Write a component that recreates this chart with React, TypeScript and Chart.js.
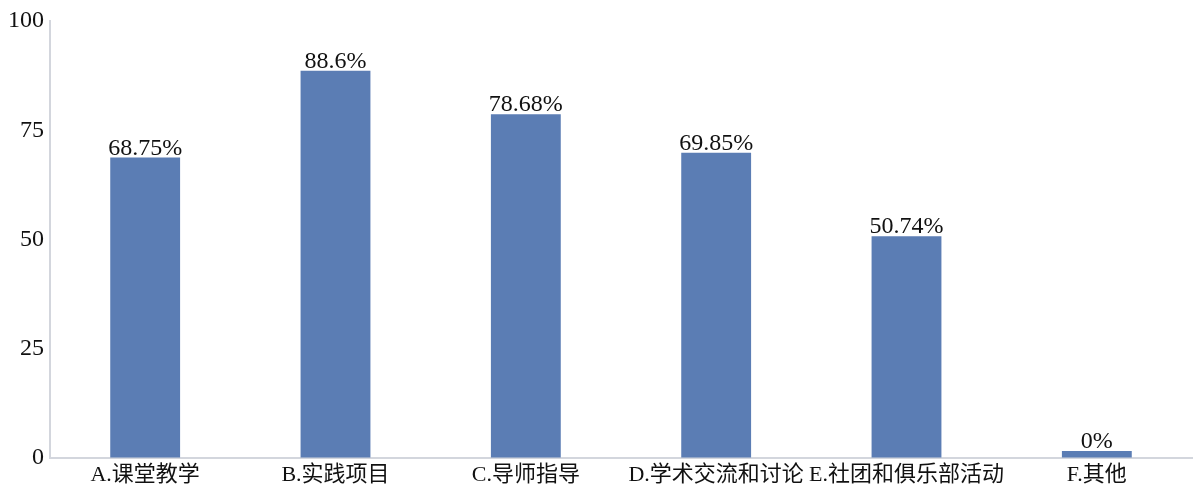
import React, { useEffect, useRef } from "react";
import { Chart, registerables } from "chart.js";

Chart.register(...registerables);

const categories = ["A.课堂教学", "B.实践项目", "C.导师指导", "D.学术交流和讨论", "E.社团和俱乐部活动", "F.其他"];
const values = [68.75, 88.6, 78.68, 69.85, 50.74, 0];
const valueLabels = ["68.75%", "88.6%", "78.68%", "69.85%", "50.74%", "0%"];
const yTicks = [0, 25, 50, 75, 100];

const FONT = '"Liberation Serif", "Noto Sans CJK SC", serif';

const labelPlugin = {
  id: "valueLabels",
  afterDatasetsDraw(chart: any) {
    const ctx = chart.ctx;
    const meta = chart.getDatasetMeta(0);
    ctx.save();
    ctx.font = `24px ${FONT}`;
    ctx.fillStyle = "#111";
    ctx.textAlign = "center";
    ctx.textBaseline = "alphabetic";
    meta.data.forEach((bar: any, i: number) => {
      ctx.fillText(valueLabels[i], bar.x, bar.y - 3);
    });
    ctx.restore();
  },
};

export default function App() {
  const ref = useRef<HTMLCanvasElement>(null);
  useEffect(() => {
    if (!ref.current) return;
    const chart = new Chart(ref.current, {
      type: "bar",
      data: {
        labels: categories,
        datasets: [
          {
            data: values,
            backgroundColor: "#5b7db4",
            barPercentage: 0.367,
            categoryPercentage: 1,
            minBarLength: 7,
          },
        ],
      },
      options: {
        responsive: false,
        animation: false,
        layout: { padding: { top: 21, right: 3, left: 0, bottom: 0 } },
        plugins: { legend: { display: false }, tooltip: { enabled: false } },
        scales: {
          x: {
            grid: { display: true, color: "transparent", drawTicks: false },
            border: { display: true, color: "#d3d6dd", width: 2 },
            ticks: { color: "#111", font: { family: FONT, size: 22 }, padding: 4, maxRotation: 0, autoSkip: false },
            afterFit: (s: any) => { s.height = 37; },
          },
          y: {
            min: 0,
            max: 100,
            afterBuildTicks: (s: any) => { s.ticks = yTicks.map((v) => ({ value: v })); },
            grid: { display: true, color: "transparent", drawTicks: false },
            border: { display: true, color: "#d3d6dd", width: 2 },
            ticks: { color: "#111", font: { family: FONT, size: 24 }, padding: 6 },
            afterFit: (s: any) => { s.width = 50; },
          },
        },
      },
      plugins: [labelPlugin],
    });
    return () => chart.destroy();
  }, []);
  return (
    <div style={{ position: "fixed", left: 0, top: 0, width: 1195, height: 495, background: "#fff" }}>
      <canvas ref={ref} width={1195} height={495} />
    </div>
  );
}
